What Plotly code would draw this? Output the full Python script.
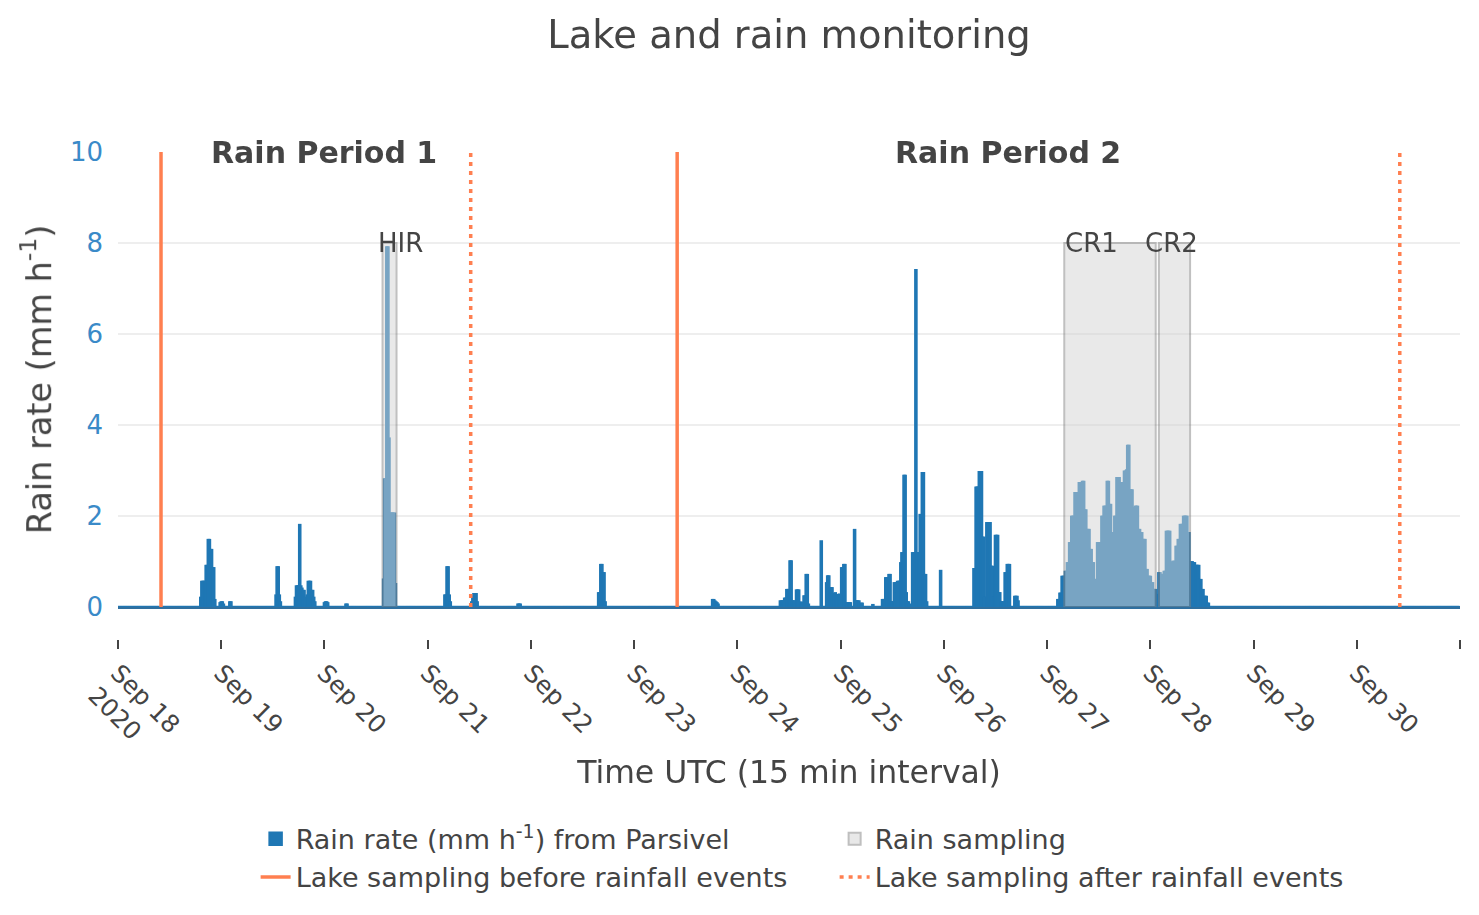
import plotly.graph_objects as go
import pandas as pn

# rain rate from the Parsivel, 15 min steps, only the rainy stretches are listed
# (everything else is 0 mm/h)
rain_sep18_evening = [0.2, 0.55, 0.55, 0.55, 0.55, 0.9, 0.9, 1.47, 1.47, 1.25, 1.25, 0.85, 0.85, 0.15]
rain_sep18_night = [0.08, 0.1, 0.1, 0.05]
rain_sep19_early = [0.1, 0.1]
rain_sep19_noon = [0.25, 0.87, 0.87, 0.25, 0.1]
rain_sep19_evening = [0.2, 0.45, 0.45, 0.45, 1.8, 0.45, 0.4, 0.35, 0.35, 0.2]
rain_sep19_late = [0.25, 0.55, 0.55, 0.55, 0.35, 0.35, 0.2, 0.1]
rain_sep20_night = [0.08, 0.1, 0.1, 0.08]
rain_sep20_morning = [0.05, 0.05]
rain_hir = [0.6, 2.8, 2.8, 7.9, 7.9, 3.7, 2.05, 2.05, 2.05, 2.05, 2.05, 0.5]
rain_sep21_early = [0.25, 0.25, 0.87, 0.87, 0.25, 0.1]
rain_sep21_morning = [0.1, 0.2, 0.28, 0.28, 0.28, 0.1]
rain_sep21_evening = [0.05, 0.05, 0.05]
rain_sep22 = [0.3, 0.3, 0.92, 0.92, 0.74, 0.74, 0.1]
rain_sep23 = [0.15, 0.15, 0.12, 0.1, 0.08, 0.05]
rain_sep24_day = [0.12, 0.12, 0.12, 0.12, 0.18, 0.18, 0.37, 0.37, 0.37, 1.0, 1.0, 0.12, 0.12, 0.12,
                  0.05, 0.36, 0.36, 0.36, 0.09, 0.09, 0.09, 0.05, 0.23, 0.23, 0.7, 0.7, 0.05]
rain_sep24_night = [1.44, 0, 0, 0, 0, 0.52, 0.67, 0.67, 0.41, 0.41, 0.41, 0.28, 0.26, 0.3, 0.25,
                    0.26, 0.24, 0.27, 0.25, 0.85, 0.85, 0.92, 0.92, 0.08, 0.08, 0.08, 0.08, 0.08,
                    0, 0, 0, 1.69, 0.12, 0.12, 0.12, 0.12, 0, 0.07, 0.07]
rain_sep25_morning = [0.04]
rain_sep25_day = [0.15, 0.15, 0.15, 0.63, 0.63, 0.63, 0.7, 0.7, 0.1, 0.1, 0.1, 0.52, 0.52, 0.3,
                  0.55, 0.55, 0.55, 0.96, 1.18, 1.18, 2.88, 2.88, 0.3, 0.1, 0.1, 0.05, 0, 0,
                  1.18, 1.18, 1.18, 7.4, 1.18, 1.18, 1.18, 2.02, 0.7, 2.94, 2.94, 0.7, 0.7, 0.1]
rain_sep25_night = [0.79]
rain_sep26 = [0.83, 0.83, 2.62, 2.62, 2.62, 2.96, 2.96, 2.96, 1.52, 1.52, 0.2, 0.2, 1.84, 1.84,
              1.84, 1.84, 0.88, 0.88, 0.2, 0.2, 1.56, 1.56, 1.56, 0.3, 0.3, 0.1, 0.1, 0.1, 0.1,
              0.74, 0.74, 0.92, 0.92, 0.92, 0, 0, 0, 0, 0.22, 0.22, 0.22, 0.12]
rain_cr = [0.15, 0.15, 0.29, 0.29, 0.66, 0.66, 0.66, 0.77, 0.77, 0.96, 0.96, 1.4, 1.4,
           1.98, 1.98, 1.98, 2.5, 2.5, 2.5, 2.5, 2.72, 2.72, 2.72, 2.75, 2.75, 2.12, 2.12,
           1.69, 1.69, 1.69, 1.25, 1.25, 0.96, 0.96, 0.59, 0.59, 0.59, 1.4, 1.4, 1.4, 1.4,
           1.98, 1.98, 2.2, 2.2, 2.2, 2.75, 2.75, 2.24, 2.24, 1.62, 1.62, 1.62, 1.98, 1.98,
           2.83, 2.83, 2.83, 2.72, 2.72, 2.5, 2.5, 2.97, 2.97, 3.0, 3.54, 3.54, 2.56, 2.56, 2.56,
           2.17, 2.17, 2.2, 2.2, 2.2, 1.69, 1.69, 1.62, 1.62, 1.47, 1.47, 1.47, 0.81, 0.81,
           0.66, 0.66, 0.66, 0.52, 0.52, 0.37, 0.37, 0.37, 0.26, 0.26, 0.74, 0.74, 0.7, 0.7, 0.7,
           0.77, 0.77, 1.65, 1.65, 1.65, 1.65, 0.96, 0.96, 0.99, 0.99, 0.99, 1.32, 1.32, 1.47, 1.47,
           1.8, 1.8, 1.8, 1.98, 1.98, 1.98, 1.98, 1.62, 1.62, 0.98, 0.98, 0.98, 0.96, 0.96,
           0.9, 0.9, 0.9, 0.9, 0.59, 0.59, 0.37, 0.37, 0.22, 0.22, 0.22, 0.07, 0.07]

rain_starts = ["2020-09-18 19:15", "2020-09-18 23:45", "2020-09-19 02:00", "2020-09-19 12:45",
               "2020-09-19 17:15", "2020-09-19 20:00", "2020-09-20 00:00", "2020-09-20 05:00",
               "2020-09-20 13:45", "2020-09-21 04:00", "2020-09-21 10:15", "2020-09-21 21:00",
               "2020-09-22 15:45", "2020-09-23 18:15", "2020-09-24 10:00", "2020-09-24 19:30",
               "2020-09-25 07:30", "2020-09-25 09:45", "2020-09-25 23:15", "2020-09-26 07:00",
               "2020-09-27 02:30"]
rain_values = [rain_sep18_evening, rain_sep18_night, rain_sep19_early, rain_sep19_noon,
               rain_sep19_evening, rain_sep19_late, rain_sep20_night, rain_sep20_morning,
               rain_hir, rain_sep21_early, rain_sep21_morning, rain_sep21_evening,
               rain_sep22, rain_sep23, rain_sep24_day, rain_sep24_night,
               rain_sep25_morning, rain_sep25_day, rain_sep25_night, rain_sep26, rain_cr]

# rain sampling periods
sampling_names = ["HIR", "CR1", "CR2"]
sampling_start = ["2020-09-20 13:30", "2020-09-27 04:00", "2020-09-28 02:00"]
sampling_end = ["2020-09-20 16:45", "2020-09-28 01:15", "2020-09-28 09:15"]
sampling_label_x = ["2020-09-20 17:45", "2020-09-27 10:15", "2020-09-28 05:00"]
sampling_top = 8

# lake sampling
lake_before = ["2020-09-18 10:00", "2020-09-23 10:00"]
lake_after = ["2020-09-21 10:00", "2020-09-30 10:00"]
line_top = 10

period_names = ["Rain Period 1", "Rain Period 2"]
period_label_x = ["2020-09-20 00:00", "2020-09-26 15:00"]

FONT = "DejaVu Sans"
GREY = "#444"


def vlines(times):
    x, y = [], []
    for t in times:
        x += [t, t, None]
        y += [0, line_top, None]
    return x, y


def build_rain():
    idx = pn.date_range("2020-09-18 00:00", "2020-10-01 00:00", freq="15min", inclusive="left")
    rain = pn.Series(0.0, index=idx)
    for start, vals in zip(rain_starts, rain_values):
        rain.loc[pn.date_range(start, periods=len(vals), freq="15min")] = vals
    return rain


rain = build_rain()
s_start = pn.to_datetime(pn.Series(sampling_start))
s_end = pn.to_datetime(pn.Series(sampling_end))
s_mid = s_start + (s_end - s_start) / 2
s_width = (s_end - s_start).dt.total_seconds() * 1000

fig = go.Figure()
fig.add_trace(go.Bar(x=rain.index, y=rain.values, width=15 * 60 * 1000, cliponaxis=False,
                     name="Rain rate (mm h<sup>-1</sup>) from Parsivel",
                     marker=dict(color="#1f77b4", line=dict(color="#1f77b4", width=2.5))))
fig.add_trace(go.Bar(x=s_mid, y=[sampling_top] * len(s_mid), width=s_width,
                     name="Rain sampling", opacity=0.5,
                     marker=dict(color="lightgrey", line=dict(color="grey", width=2))))
bx, by = vlines(lake_before)
fig.add_trace(go.Scatter(x=bx, y=by, mode="lines", name="Lake sampling before rainfall events",
                         line=dict(color="#ff7f50", width=3.5)))
ax, ay = vlines(lake_after)
fig.add_trace(go.Scatter(x=ax, y=ay, mode="lines", name="Lake sampling after rainfall events",
                         line=dict(color="#ff7f50", width=3.5, dash="4px,5px")))

for name, xpos in zip(period_names, period_label_x):
    fig.add_annotation(x=xpos, y=line_top, text="<b>" + name + "</b>", showarrow=False,
                       font=dict(size=30, color=GREY), yanchor="middle")
for name, xpos in zip(sampling_names, sampling_label_x):
    fig.add_annotation(x=xpos, y=sampling_top, text=name, showarrow=False,
                       font=dict(size=26, color=GREY), yanchor="middle")

# the page body adds 8 px on the left and top, margins are set with that in mind
fig.update_layout(
    width=1479, height=915,
    margin=dict(l=110, r=27, t=144, b=284),
    font=dict(family=FONT, color=GREY),
    paper_bgcolor="white", plot_bgcolor="white",
    barmode="overlay",
    title=dict(text="Lake and rain monitoring", x=0.5, xref="paper", xanchor="center",
               y=1 - 27 / 915, yanchor="middle", font=dict(size=38.5, color=GREY)),
    legend=dict(orientation="h", x=0.534, xanchor="center", y=-0.361, yanchor="top",
                font=dict(size=27, color=GREY), entrywidth=534),
)
# x axis sits a bit below the zero line of the rain axis
fig.update_xaxes(type="date", range=["2020-09-18", "2020-10-01"], dtick=86400000,
                 tick0="2020-09-18", tickangle=45, ticks="outside", ticklen=9, tickwidth=2,
                 tickcolor=GREY, showgrid=False, zeroline=False, showline=False,
                 anchor="free", position=0, automargin=False,
                 tickfont=dict(size=24.5, color=GREY),
                 title=dict(text="Time UTC (15 min interval)", standoff=0,
                            font=dict(size=31.5, color=GREY)))
fig.update_yaxes(range=[0, 10], domain=[32 / 487, 1], dtick=2, showgrid=True,
                 gridcolor="#eeeeee", gridwidth=2, automargin=False,
                 zeroline=True, zerolinecolor="#2f6f9f", zerolinewidth=3,
                 showline=False, ticklabelstandoff=14,
                 tickfont=dict(size=26, color="#3a8ac8"),
                 title=dict(text="Rain rate (mm h<sup>-1</sup>)", standoff=8,
                            font=dict(size=33.5, color=GREY)))

fig.write_html("out.html")
